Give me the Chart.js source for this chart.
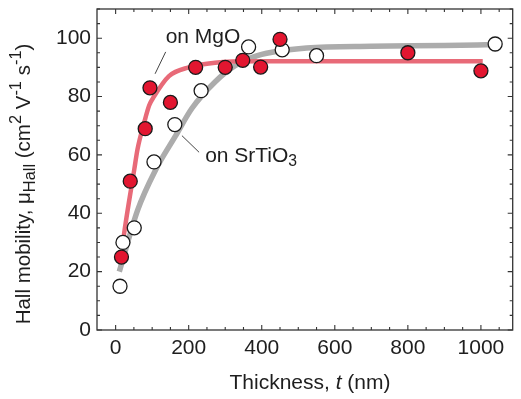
<!DOCTYPE html>
<html>
<head>
<meta charset="utf-8">
<script src="https://cdn.jsdelivr.net/npm/chart.js@4"></script>
<style>
  body { margin: 0; background: #fff; }
  #wrap { width: 521px; height: 399px; }
</style>
</head>
<body>
<div id="wrap"><canvas id="myChart" width="521" height="399"></canvas></div>
<script>
// measured points, film on MgO
var mgoT = [16, 40, 81, 94, 150, 219, 300, 348, 397, 450, 800, 1000];
var mgoMu = [25, 51, 69, 83, 78, 90, 90, 92.4, 90.1, 99.6, 95, 88.8];
// measured points, film on SrTiO3
var stoT = [12, 20, 51, 105, 162, 234, 364, 456, 550, 1039];
var stoMu = [15, 30, 35, 57.6, 70.4, 82, 97, 96, 94, 98];
// fit curves
var mgoFitT = [18, 22, 51, 60, 78, 92, 105, 146, 200, 272, 388, 600, 800, 1005];
var mgoFitMu = [28, 32, 55, 62, 71, 77, 80, 87, 90, 91.6, 92.1, 92.1, 92.1, 92.1];
var stoFitT = [10, 60, 110, 164, 209, 272, 326, 388, 523, 700, 900, 1036];
var stoFitMu = [20, 41, 55, 66.5, 76, 85, 90.5, 94, 96.6, 97.2, 97.5, 97.8];

var xTicks = [0, 200, 400, 600, 800, 1000];
var yTicks = [0, 20, 40, 60, 80, 100];

var FONT = '"Liberation Sans", Arial, sans-serif';
var INK = '#1e1e1e';

function pts(xs, ys) {
  var out = [];
  for (var i in xs) out.push({x: xs[i], y: ys[i]});
  return out;
}

// text pieces: [text, 0 normal / 1 sub / 2 sup / 3 italic]
function drawRich(ctx, parts, x, y, size, align, small) {
  small = small || 0.7;
  var w = 0;
  parts.forEach(function(p) {
    ctx.font = (p[1] == 3 ? 'italic ' : '') + (p[1] == 1 || p[1] == 2 ? size * small : size) + 'px ' + FONT;
    w += ctx.measureText(p[0]).width;
  });
  var cx = align == 'center' ? x - w / 2 : x;
  parts.forEach(function(p) {
    var s = (p[1] == 1 || p[1] == 2) ? size * small : size;
    ctx.font = (p[1] == 3 ? 'italic ' : '') + s + 'px ' + FONT;
    var dy = p[1] == 1 ? size * 0.3 : (p[1] == 2 ? -size * 0.38 : 0);
    ctx.fillText(p[0], cx, y + dy);
    cx += ctx.measureText(p[0]).width;
  });
}

var framePlugin = {
  id: 'frame',
  afterDraw: function(chart) {
    var ctx = chart.ctx, a = chart.chartArea;
    var xs = chart.scales.x, ys = chart.scales.y;
    ctx.save();
    ctx.strokeStyle = '#333';
    ctx.lineWidth = 1.3;
    ctx.strokeRect(a.left, a.top, a.right - a.left, a.bottom - a.top);
    ctx.lineWidth = 1.1;
    ctx.beginPath();
    for (var t = 0; t <= 1050; t += 50) {
      var px = xs.getPixelForValue(t);
      var len = t % 200 == 0 ? 5 : 3;
      ctx.moveTo(px, a.bottom); ctx.lineTo(px, a.bottom - len);
      ctx.moveTo(px, a.top); ctx.lineTo(px, a.top + len);
    }
    for (var v = 0; v <= 110; v += 5) {
      var py = ys.getPixelForValue(v);
      var len2 = v % 20 == 0 ? 5 : 3;
      ctx.moveTo(a.left, py); ctx.lineTo(a.left + len2, py);
      ctx.moveTo(a.right, py); ctx.lineTo(a.right - len2, py);
    }
    ctx.stroke();

    ctx.fillStyle = INK;
    ctx.textBaseline = 'middle';
    // x title
    drawRich(ctx, [['Thickness, ', 0], ['t', 3], [' (nm)', 0]], 310, 383, 21, 'center');
    // y title
    ctx.save();
    ctx.translate(24, 184);
    ctx.rotate(-Math.PI / 2);
    drawRich(ctx, [['Hall mobility, \u03bc', 0], ['Hall', 1], [' (cm', 0], ['2', 2], [' V', 0], ['-1', 2], [' s', 0], ['-1', 2], [')', 0]], 0, 0, 20.5, 'center', 0.8);
    ctx.restore();

    // labels with leader lines
    ctx.strokeStyle = '#444';
    ctx.lineWidth = 1;
    ctx.beginPath();
    ctx.moveTo(xs.getPixelForValue(137), ys.getPixelForValue(95.3));
    ctx.lineTo(xs.getPixelForValue(108), ys.getPixelForValue(87.8));
    ctx.moveTo(xs.getPixelForValue(181.5), ys.getPixelForValue(66.6));
    ctx.lineTo(xs.getPixelForValue(228.5), ys.getPixelForValue(60.9));
    ctx.stroke();
    drawRich(ctx, [['on MgO', 0]], xs.getPixelForValue(137), ys.getPixelForValue(100.5), 21, 'left');
    drawRich(ctx, [['on SrTiO', 0], ['3', 1]], xs.getPixelForValue(245), ys.getPixelForValue(59.7), 21, 'left', 0.75);
    ctx.restore();
  }
};

var ctx = document.getElementById('myChart').getContext('2d');
var chart = new Chart(ctx, {
  type: 'scatter',
  data: {
    datasets: [
      { label: 'MgO', data: pts(mgoT, mgoMu), order: 0,
        pointRadius: 7, pointBackgroundColor: 'rgb(226,22,48)', pointBorderColor: '#1a1a1a', pointBorderWidth: 1.3 },
      { label: 'SrTiO3', data: pts(stoT, stoMu), order: 1,
        pointRadius: 7, pointBackgroundColor: '#fff', pointBorderColor: '#1a1a1a', pointBorderWidth: 1.3 },
      { label: 'MgO fit', data: pts(mgoFitT, mgoFitMu), order: 2, showLine: true,
        borderColor: 'rgb(232,106,120)', borderWidth: 4.5, pointRadius: 0, cubicInterpolationMode: 'monotone' },
      { label: 'SrTiO3 fit', data: pts(stoFitT, stoFitMu), order: 3, showLine: true,
        borderColor: 'rgb(172,172,172)', borderWidth: 5.5, pointRadius: 0, cubicInterpolationMode: 'monotone' }
    ]
  },
  options: {
    responsive: false,
    animation: false,
    devicePixelRatio: 1,
    layout: { padding: { top: 9, right: 2, left: 0, bottom: 0 } },
    plugins: { legend: { display: false }, tooltip: { enabled: false } },
    scales: {
      x: {
        type: 'linear', min: -51, max: 1087,
        grid: { display: false, drawTicks: false }, border: { display: false },
        afterBuildTicks: function(s) { s.ticks = xTicks.map(function(v) { return {value: v}; }); },
        afterFit: function(s) { s.height = 69; s.paddingLeft = 0; s.paddingRight = 0; },
        ticks: { color: INK, padding: 6, maxRotation: 0, font: { family: FONT, size: 21 },
                 callback: function(v) { return String(v); } }
      },
      y: {
        type: 'linear', min: 0, max: 110,
        grid: { display: false, drawTicks: false }, border: { display: false },
        afterBuildTicks: function(s) { s.ticks = yTicks.map(function(v) { return {value: v}; }); },
        afterFit: function(s) { s.width = 97; s.paddingTop = 0; s.paddingBottom = 0; },
        ticks: { color: INK, padding: 6, font: { family: FONT, size: 21 } }
      }
    }
  },
  plugins: [framePlugin]
});
</script>
</body>
</html>
